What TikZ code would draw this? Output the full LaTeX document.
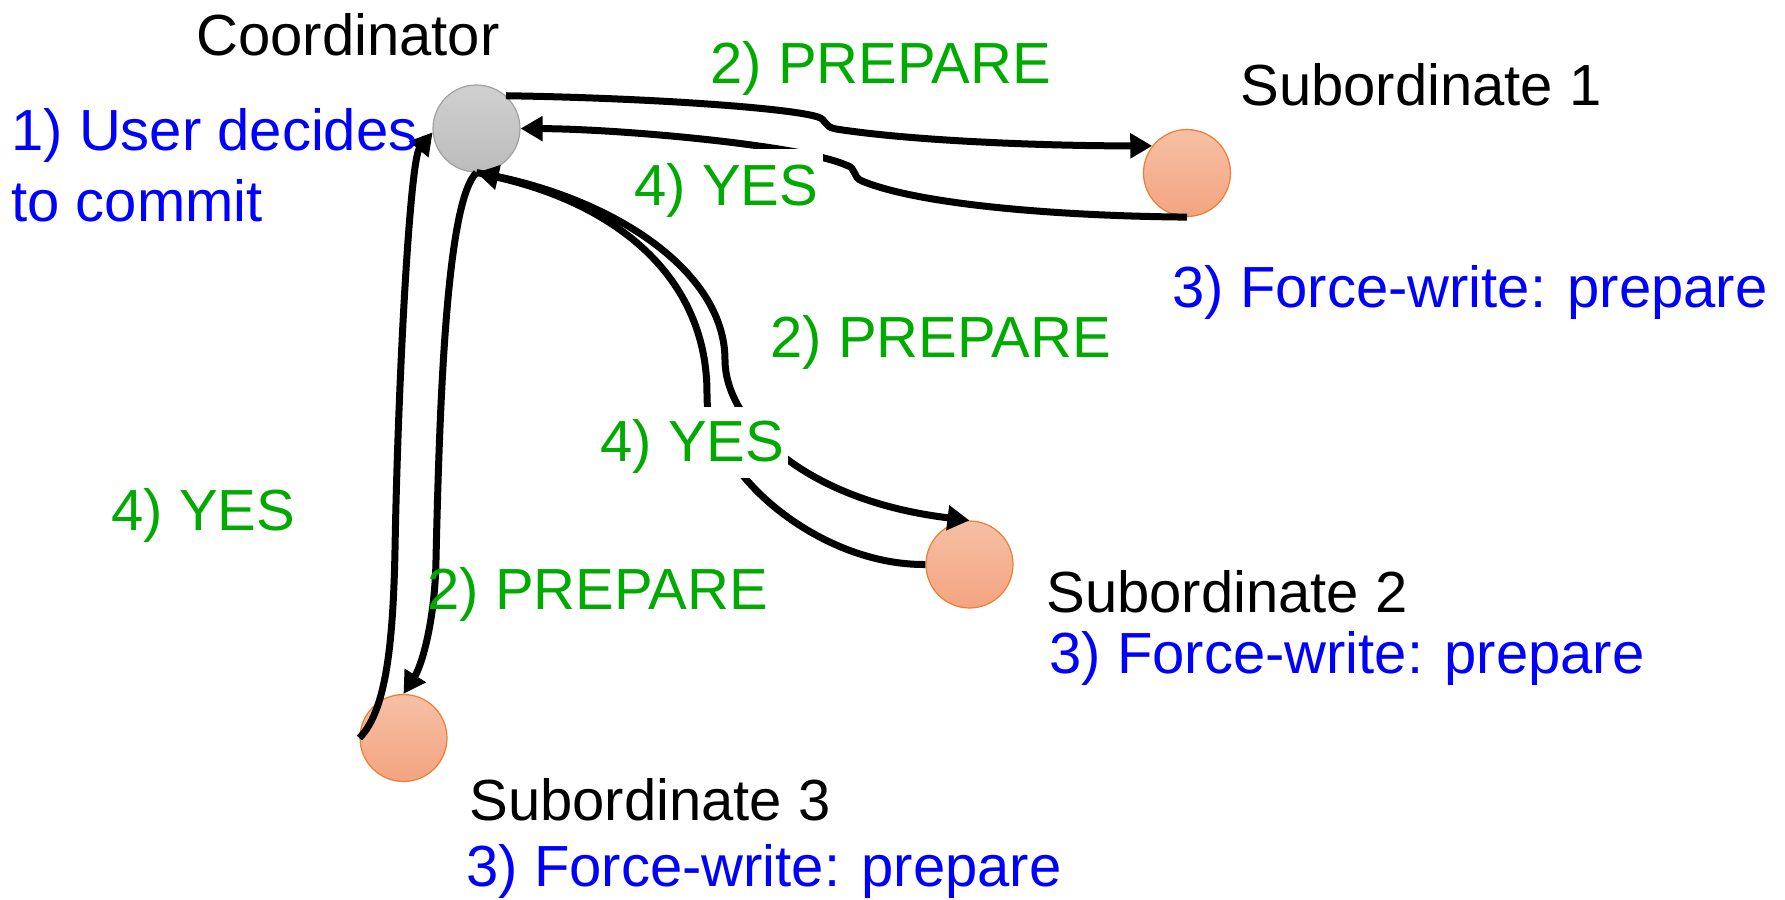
\documentclass[tikz,border=0pt]{standalone}
\usepackage{fontspec}
\setmainfont{Liberation Sans}
\usetikzlibrary{arrows.meta}
\definecolor{tgreen}{RGB}{0,170,0}
\definecolor{tblue}{RGB}{0,0,255}
\definecolor{cgrayA}{RGB}{208,208,208}
\definecolor{cgrayB}{RGB}{188,188,188}
\definecolor{cgrayD}{RGB}{160,160,160}
\definecolor{corA}{RGB}{246,192,165}
\definecolor{corB}{RGB}{243,164,128}
\definecolor{corD}{RGB}{237,125,49}
\begin{document}
\begin{tikzpicture}[x=0.5pt,y=-0.5pt,
  lbl/.style={inner sep=0pt, anchor=base west, font=\fontsize{29}{35.5}\selectfont},
  conn/.style={line width=3.5pt, draw=black},
  arr/.style={-{Triangle[length=11pt,width=12pt]}},
  coordnode/.style={circle, inner sep=0pt, minimum size=43.5pt, draw=cgrayD, line width=0.6pt, top color=cgrayA, bottom color=cgrayB},
  subnode/.style={circle, inner sep=0pt, minimum size=43.5pt, draw=corD, line width=0.6pt, top color=corA, bottom color=corB}
]
\useasboundingbox (0,0) rectangle (1785,900);

\node[coordnode] (coord) at (476.5,128.5) {};
\node[subnode] (sub1) at (1187,173) {};
\node[subnode] (sub2) at (969.5,564.5) {};
\node[subnode] (sub3) at (403.5,738) {};

% Coordinator -> Sub1 PREPARE
\draw[conn,arr] (coord.48) .. controls (650,98) and (790,108) .. (818,117)
  .. controls (827,120) and (824,127) .. (836,129)
  .. controls (920,142) and (1060,146) .. (sub1.142);
% Sub1 -> Coordinator YES
\draw[conn,arr] (sub1.south) .. controls (1060,216) and (920,205) .. (862,181)
  .. controls (852,177) and (857,168) .. (846,165)
  .. controls (800,145) and (620,129) .. (coord.east);
% Coordinator -> Sub2 PREPARE
\draw[conn,arr] (coord.south) .. controls (610,195) and (725,270) .. (725,360)
  .. controls (725,420) and (800,500) .. (sub2.north);
% Sub2 -> Coordinator YES
\draw[conn,arr] (sub2.west) .. controls (850,565) and (780,520) .. (745,478)
  .. controls (720,448) and (707,430) .. (707,395)
  .. controls (708,280) and (620,205) .. (coord.south);
% Coordinator -> Sub3 PREPARE
\draw[conn,arr] (coord.south) .. controls (448,200) and (440,380) .. (436,560)
  .. controls (435,620) and (422,665) .. (sub3.north);
% Sub3 -> Coordinator YES
\draw[conn,arr] (sub3.west) .. controls (385,712) and (393,650) .. (395,550)
  .. controls (398,380) and (410,160) .. (coord.185);

\node[lbl] (tcoord) at (196,55) {Coordinator};
\node[lbl, text=tblue, align=left] (tuser) at (11,221) {1) User decides\\to commit};
\node[lbl, text=tgreen] (tprep1) at (710,83) {2) PREPARE};
\node[lbl] (tsub1) at (1240,105) {Subordinate 1};
\node[lbl, text=tblue] (tfw1) at (1172,307) {3) Force-write: prepare};
\node[lbl, text=tgreen] (tprep2) at (770,357) {2) PREPARE};
\node[lbl, text=tgreen] (tyes3) at (111,530) {4) YES};
\node[lbl, text=tgreen] (tprep3) at (427,609) {2) PREPARE};
\node[lbl] (tsub2) at (1046,612) {Subordinate 2};
\node[lbl, text=tblue] (tfw2) at (1049,673) {3) Force-write: prepare};
\node[lbl] (tsub3) at (469,820) {Subordinate 3};
\node[lbl, text=tblue] (tfw3) at (466,886) {3) Force-write: prepare};
\node[lbl, text=tgreen, fill=white, inner xsep=2.5pt, text height=28pt, text depth=6pt] (tyes1) at (629,205) {4) YES};
\node[lbl, text=tgreen, fill=white, inner xsep=2pt, text height=27pt, text depth=8.5pt] (tyes2) at (596,461) {4) YES};
\end{tikzpicture}
\end{document}
